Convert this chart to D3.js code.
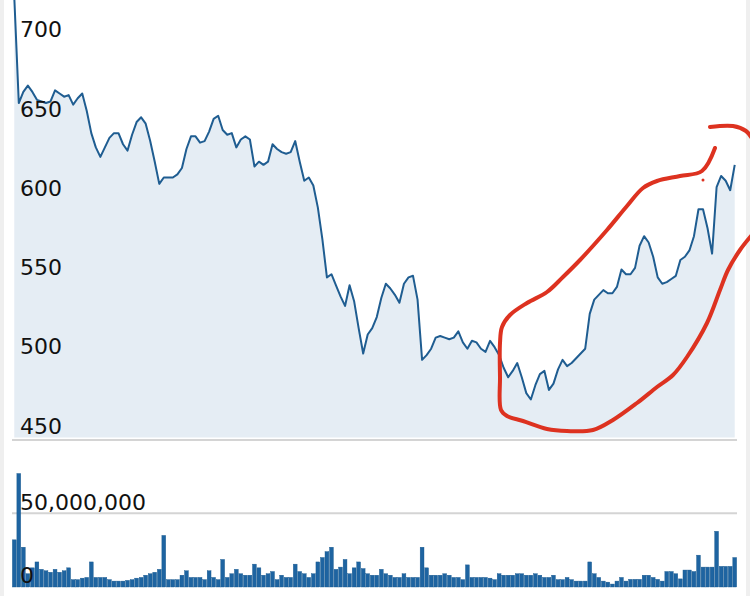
<!DOCTYPE html>
<html>
<head>
<meta charset="utf-8">
<script src="https://cdn.jsdelivr.net/npm/d3@7"></script>
<style>
	html, body { margin: 0; padding: 0; background: #efefef; }
	svg { display: block; }
</style>
</head>
<body>
<svg id="chart" width="750" height="596"></svg>
<script>
/*
// price + volume chart
// daily closes drawn as an area with a line on top, volume as bars underneath
*/

// Daily closing prices
const closes = [
	728, 661, 668, 672, 668, 663, 662, 661, 662, 669,
	667, 665, 666, 660, 664, 667, 656, 642, 633, 627,
	633, 639, 642, 642, 635, 631, 641, 649, 652, 648,
	637, 624, 610, 614, 614, 614, 616, 620, 632, 640,
	640, 636, 637, 643, 651, 653, 644, 641, 642, 633,
	638, 640, 638, 621, 624, 622, 624, 635, 632, 630,
	629, 630, 637, 624, 612, 614, 609, 595, 575, 551,
	553, 546, 539, 533, 546, 536, 519, 503, 515, 519,
	526, 538, 547, 544, 540, 535, 547, 551, 552, 537,
	499, 502, 506, 513, 514, 513, 512, 513, 517, 510,
	506, 511, 510, 506, 504, 511, 507, 502, 494, 488,
	492, 497, 488, 478, 474, 483, 490, 492, 480, 484,
	493, 499, 495, 497, 500, 503, 506, 528, 537, 540,
	543, 541, 541, 545, 556, 553, 553, 557, 571, 577,
	573, 564, 551, 547, 548, 550, 552, 562, 564, 568,
	577, 594, 594, 582, 566, 608, 615, 612, 606, 622
];

// Daily volume (shares)
const volumes = [
	32000000, 77000000, 27000000, 9000000, 13000000, 17000000, 12000000, 11000000, 10000000, 12000000,
	10000000, 11000000, 13000000, 5000000, 5000000, 6000000, 6500000, 17000000, 6500000, 6500000,
	6500000, 5000000, 4000000, 4000000, 4000000, 4500000, 5000000, 6000000, 6500000, 8000000,
	9000000, 10000000, 12000000, 35000000, 5000000, 5000000, 5000000, 8000000, 11000000, 6500000,
	6500000, 6500000, 5000000, 11000000, 6500000, 5000000, 18700000, 6500000, 9000000, 12000000,
	9000000, 8000000, 8000000, 15500000, 13000000, 8000000, 9000000, 10500000, 5000000, 8000000,
	6500000, 6500000, 15500000, 10500000, 9000000, 6500000, 9000000, 17000000, 20000000, 24000000,
	27000000, 12000000, 13500000, 18700000, 9000000, 13000000, 17000000, 12500000, 9000000, 8000000,
	8000000, 12000000, 9000000, 8000000, 6500000, 6500000, 9000000, 6500000, 6500000, 6500000,
	27000000, 13000000, 8000000, 8000000, 8000000, 9000000, 8000000, 6500000, 6500000, 5000000,
	15000000, 6500000, 6500000, 6500000, 6500000, 6000000, 5000000, 9000000, 8000000, 8000000,
	8000000, 9000000, 9000000, 8000000, 8000000, 9000000, 8000000, 6500000, 6500000, 8000000,
	5000000, 5000000, 6500000, 5000000, 4000000, 4000000, 4000000, 17000000, 9000000, 6500000,
	4000000, 3300000, 2000000, 4000000, 6500000, 4000000, 5200000, 5200000, 5200000, 8000000,
	8000000, 6500000, 5200000, 4000000, 10500000, 10500000, 9000000, 5500000, 11500000, 11500000,
	10500000, 21600000, 13500000, 13500000, 13500000, 37800000, 14000000, 14000000, 14000000, 20000000
];

const priceTicks = [450, 500, 550, 600, 650, 700];
const volumeTicks = [0, 50000000];

const LINE_COLOR = "#1f5d91";
const AREA_COLOR = "#e5edf4";
const BAR_COLOR = "#1e64a1";
const GRID_COLOR = "#d4d4d4";
const MARK_COLOR = "#dd3220";	// hand drawn marker on top of the chart

const svg = d3.select("#chart");

// white card, thin grey page border left and right
svg.append("rect")
	.attr("x", 4)
	.attr("y", 0)
	.attr("width", 742)
	.attr("height", 596)
	.attr("fill", "#fff");

const x = d3.scaleBand()
	.domain(d3.range(closes.length))
	.range([12, 737])
	.padding(0);
const xc = i => x(i) + x.bandwidth() / 2;

const yPrice = d3.scaleLinear()
	.domain([450, 726])
	.range([437.5, 0]);

const yVol = d3.scaleLinear()
	.domain([0, 50000000])
	.range([587, 513.3]);

// Price area + line
const area = d3.area()
	.x((d, i) => xc(i))
	.y0(yPrice(450))
	.y1(d => yPrice(d));

const line = d3.line()
	.x((d, i) => xc(i))
	.y(d => yPrice(d));

svg.append("path")
	.datum(closes)
	.attr("d", area)
	.attr("fill", AREA_COLOR);

svg.append("path")
	.datum(closes)
	.attr("d", line)
	.attr("fill", "none")
	.attr("stroke", LINE_COLOR)
	.attr("stroke-width", 2)
	.attr("stroke-linejoin", "round");

// bottom rule of the price panel
svg.append("line")
	.attr("x1", 12)
	.attr("x2", 737)
	.attr("y1", yPrice(450) + 2.5)
	.attr("y2", yPrice(450) + 2.5)
	.attr("stroke", GRID_COLOR)
	.attr("stroke-width", 2);

// Volume grid (only the non zero ticks)
svg.selectAll(".vgrid")
	.data(volumeTicks.filter(d => d > 0))
	.enter()
	.append("line")
	.attr("class", "vgrid")
	.attr("x1", 12)
	.attr("x2", 737)
	.attr("y1", d => yVol(d))
	.attr("y2", d => yVol(d))
	.attr("stroke", GRID_COLOR)
	.attr("stroke-width", 2);

// Volume bars
svg.selectAll(".bar")
	.data(volumes)
	.enter()
	.append("rect")
	.attr("class", "bar")
	.attr("x", (d, i) => x(i) + 0.35)
	.attr("width", x.bandwidth() - 0.7)
	.attr("y", d => yVol(d))
	.attr("height", d => yVol(0) - yVol(d))
	.attr("fill", BAR_COLOR)
	.attr("stroke", "#17578d")
	.attr("stroke-width", 0.4);

// Axes: labels sit just above their value, inside the plot
function styleAxis(g) {
	g.attr("font-family", "'DejaVu Sans', sans-serif")
	 .attr("font-size", 22)
	 .attr("color", "#111");
	g.select(".domain").remove();
	g.selectAll(".tick line").remove();
	g.selectAll(".tick text").attr("dy", -4.3);
}

svg.append("g")
	.attr("transform", "translate(20,0)")
	.call(d3.axisRight(yPrice).tickValues(priceTicks).tickSize(0).tickPadding(0))
	.call(styleAxis);

svg.append("g")
	.attr("transform", "translate(20,0)")
	.call(d3.axisRight(yVol).tickValues(volumeTicks).tickSize(0).tickPadding(0).tickFormat(d3.format(",")))
	.call(styleAxis);

// Hand drawn marker round the recovery
const loop = [
	[715, 148], [702, 171], [680, 176], [657, 181], [643, 188], [627, 206],
	[607, 230], [580, 260], [563, 277], [547, 292], [527, 303], [510, 315],
	[502, 327], [500, 343], [500, 377], [501, 410], [507, 416], [523, 421],
	[547, 429], [567, 431], [593, 430], [613, 420], [637, 403], [657, 387],
	[673, 375], [687, 357], [707, 323], [720, 290], [728, 270], [740, 250], [751, 236]
];
const bracket = [[710, 127], [733, 126], [746, 131], [751, 137]];

const scribble = d3.line().curve(d3.curveCatmullRom);

[loop, bracket].forEach(function(pts) {
	svg.append("path")
		.attr("d", scribble(pts))
		.attr("fill", "none")
		.attr("stroke", MARK_COLOR)
		.attr("stroke-width", 4)
		.attr("stroke-linecap", "round")
		.attr("stroke-linejoin", "round");
});

svg.append("circle")
	.attr("cx", 703)
	.attr("cy", 180)
	.attr("r", 1.5)
	.attr("fill", MARK_COLOR);
</script>
</body>
</html>
